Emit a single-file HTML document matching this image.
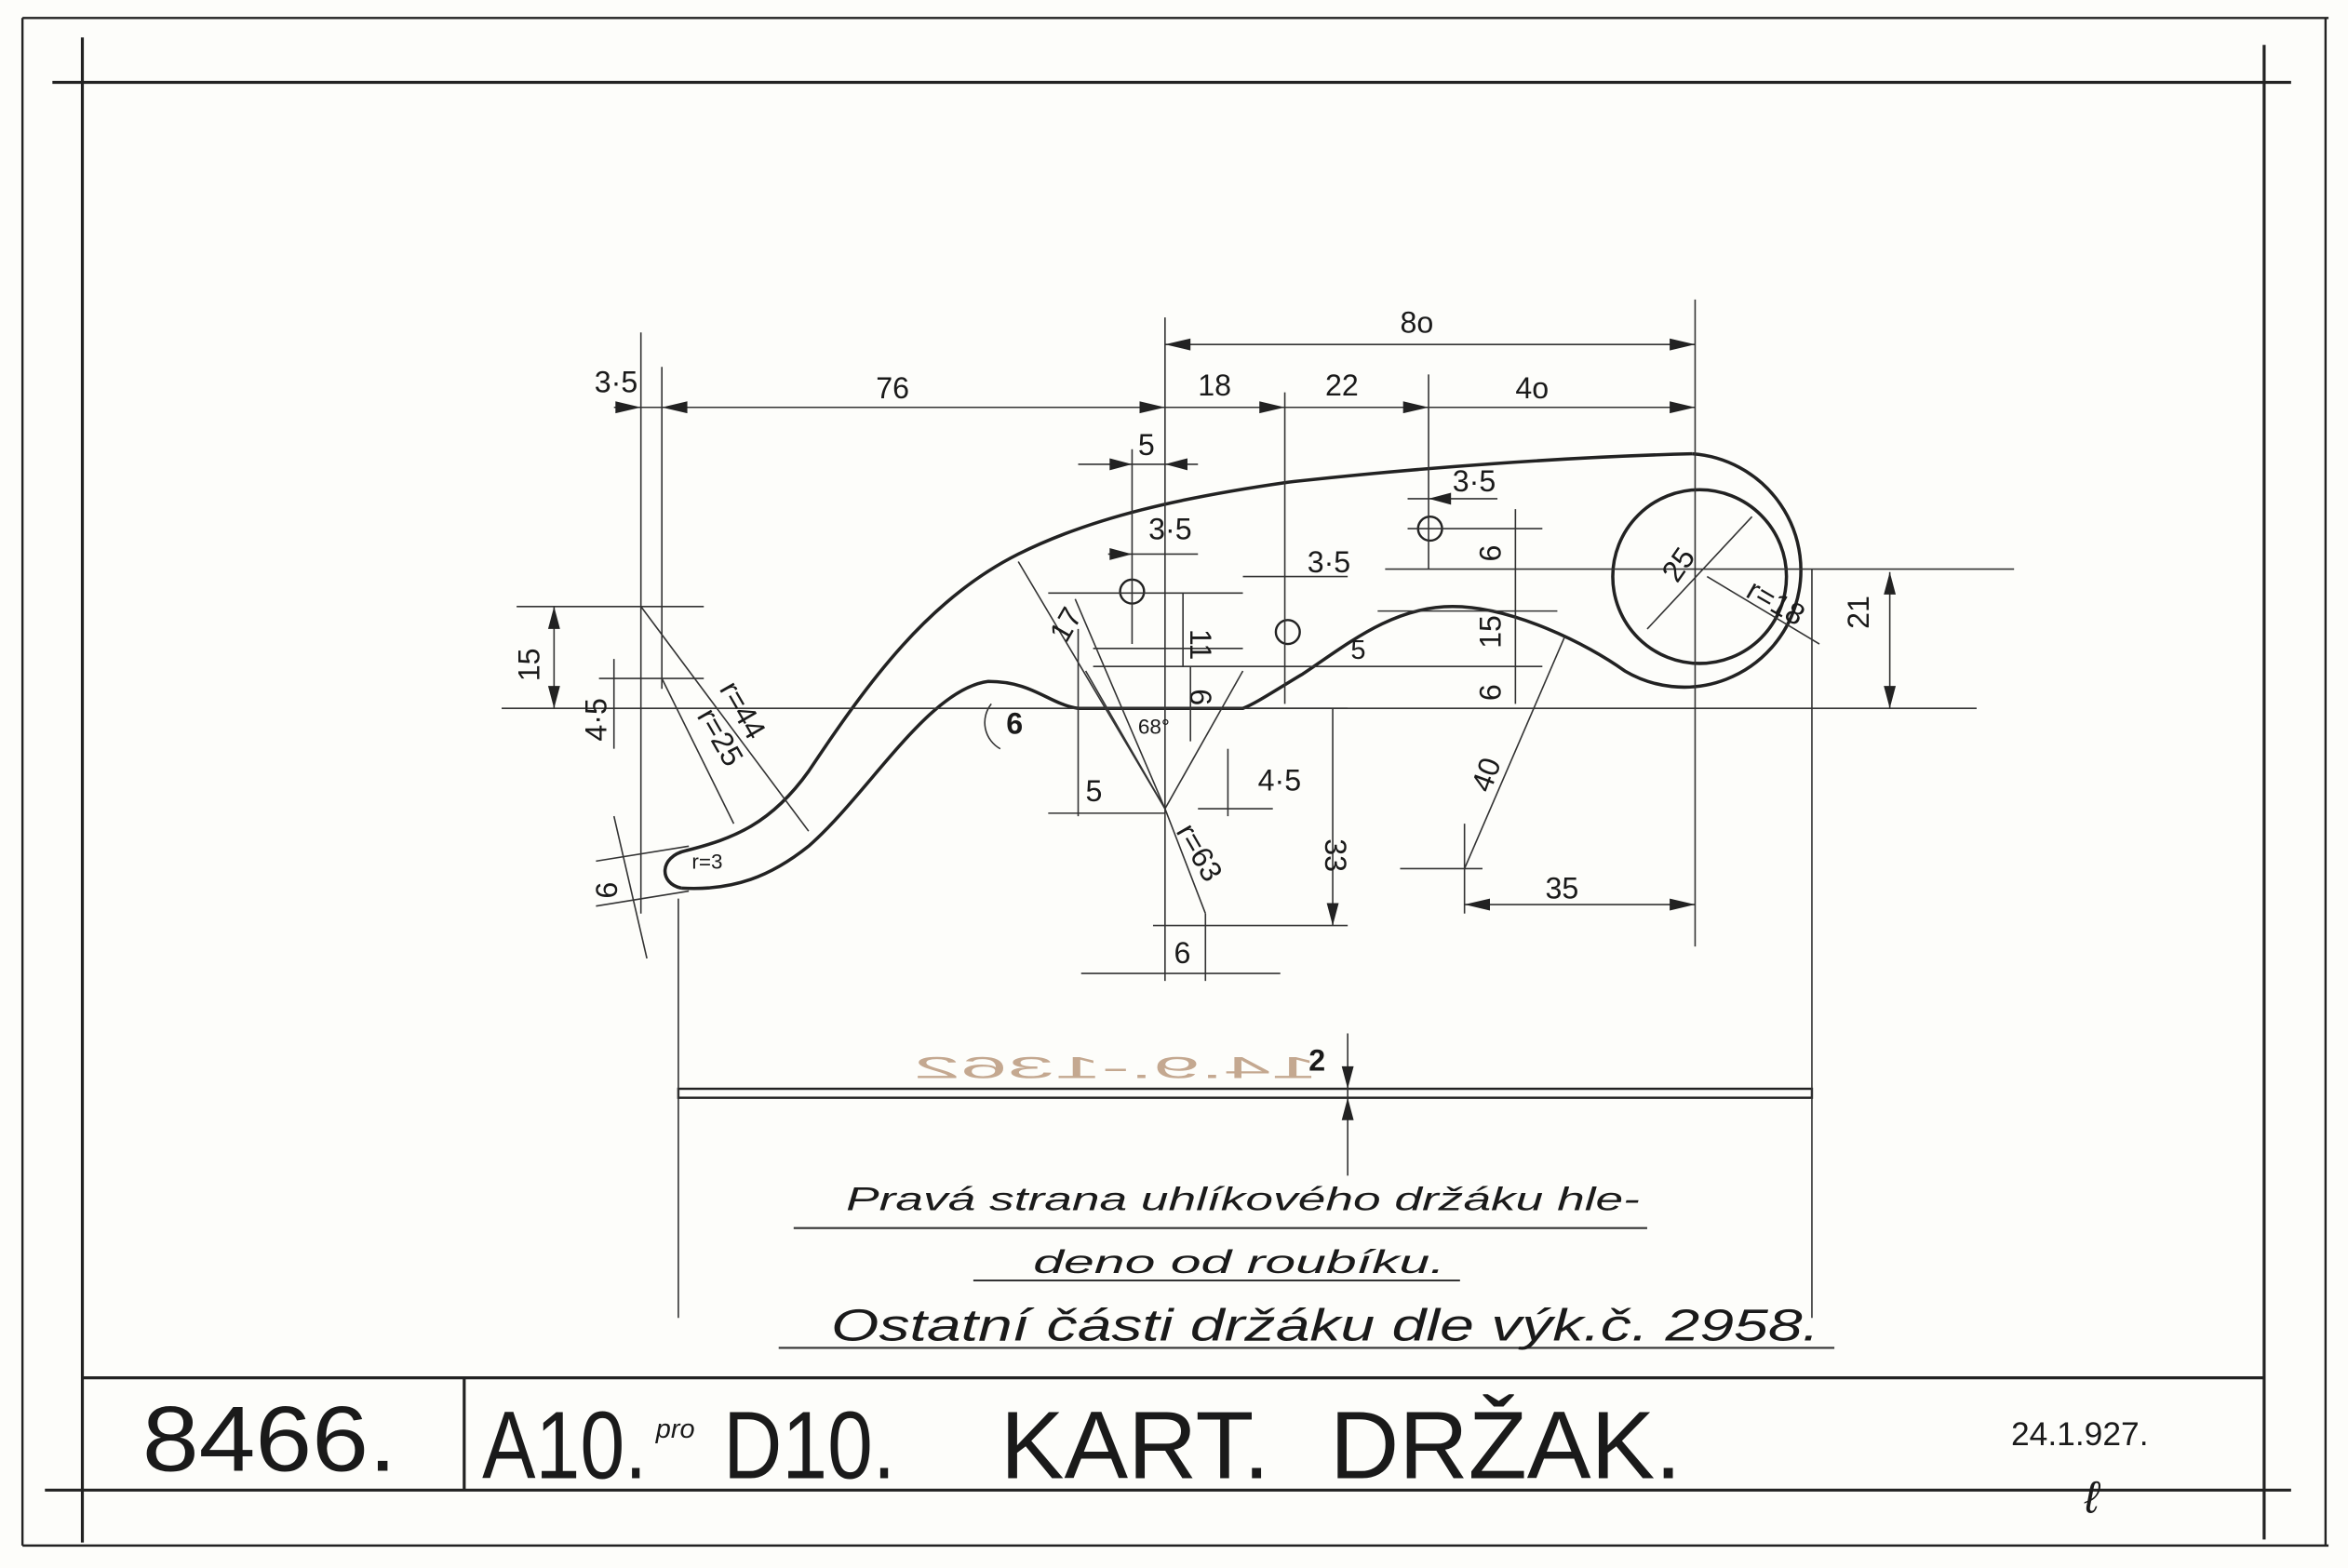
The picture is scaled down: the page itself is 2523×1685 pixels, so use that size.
<!DOCTYPE html>
<html><head><meta charset="utf-8"><style>
html,body{margin:0;padding:0;background:#fdfdfa;}
svg{display:block;}
text{font-family:"Liberation Sans",sans-serif;fill:#1a1a1a;}
.c{font-style:italic;}
</style></head><body>
<svg width="2523" height="1685" viewBox="0 0 1568 1047" preserveAspectRatio="none" xmlns="http://www.w3.org/2000/svg">
<rect width="1568" height="1047" fill="#fdfdfa"/>
<g stroke="#222" fill="none" stroke-width="1.5">
<line x1="15" y1="12" x2="1555" y2="12"/>
<line x1="15" y1="12" x2="15" y2="1032"/>
<line x1="1553" y1="12" x2="1553" y2="1032"/>
<line x1="15" y1="1032" x2="1555" y2="1032"/>
<line x1="35" y1="55" x2="1530" y2="55" stroke-width="2"/>
<line x1="55" y1="25" x2="55" y2="1030" stroke-width="2"/>
<line x1="1512" y1="30" x2="1512" y2="1028" stroke-width="2"/>
<line x1="30" y1="995" x2="1530" y2="995" stroke-width="2"/>
<line x1="55" y1="920" x2="1512" y2="920" stroke-width="2"/>
<line x1="310" y1="920" x2="310" y2="995" stroke-width="2"/>
<path stroke-width="2.2" d="M455,593 C440,590 440,572 458,568 C490,560 515,550 540,515 C580,455 620,400 680,370 C730,345 790,332 860,322 C950,312 1050,305 1130,303"/>
<path stroke-width="2.2" d="M1130,303 A78,78 0 1 1 1085,448 C1060,430 1010,405 970,405 C930,405 900,430 870,450 C850,462 838,470 830,473 L720,473 C700,470 690,455 660,455 C620,460 580,530 540,565 C515,585 490,595 455,593"/>
<circle cx="1135" cy="385" r="58" stroke-width="2.2"/>
<circle cx="756" cy="395" r="8"/><circle cx="860" cy="422" r="8"/><circle cx="955" cy="353" r="8"/>
<rect x="453" y="727" width="757" height="6" stroke-width="1.5"/>
</g>
<g stroke="#333" fill="none" stroke-width="1">
<line x1="778" y1="212" x2="778" y2="655"/>
<line x1="1132" y1="200" x2="1132" y2="632"/>
<line x1="778" y1="230" x2="1132" y2="230"/>
<line x1="410" y1="272" x2="1132" y2="272"/>
<line x1="428" y1="222" x2="428" y2="610"/>
<line x1="442" y1="245" x2="442" y2="460"/>
<line x1="858" y1="262" x2="858" y2="470"/>
<line x1="954" y1="250" x2="954" y2="380"/>
<line x1="720" y1="310" x2="800" y2="310"/>
<line x1="756" y1="300" x2="756" y2="430"/>
<line x1="740" y1="370" x2="800" y2="370"/>
<line x1="700" y1="396" x2="830" y2="396"/>
<line x1="830" y1="385" x2="900" y2="385"/>
<line x1="940" y1="333" x2="1000" y2="333"/>
<line x1="925" y1="380" x2="1345" y2="380"/>
<line x1="940" y1="353" x2="1030" y2="353"/>
<line x1="730" y1="433" x2="830" y2="433"/>
<line x1="730" y1="445" x2="1030" y2="445"/>
<line x1="920" y1="408" x2="1040" y2="408"/>
<line x1="335" y1="473" x2="1320" y2="473"/>
<line x1="345" y1="405" x2="470" y2="405"/>
<line x1="400" y1="453" x2="470" y2="453"/>
<line x1="370" y1="405" x2="370" y2="473"/>
<line x1="410" y1="440" x2="410" y2="500"/>
<line x1="1262" y1="382" x2="1262" y2="473"/>
<line x1="1140" y1="385" x2="1215" y2="430"/>
<line x1="1100" y1="420" x2="1170" y2="345"/>
<line x1="428" y1="405" x2="540" y2="555"/>
<line x1="442" y1="453" x2="490" y2="550"/>
<line x1="778" y1="540" x2="680" y2="375"/>
<line x1="778" y1="540" x2="718" y2="400"/>
<line x1="778" y1="540" x2="725" y2="448"/>
<line x1="778" y1="540" x2="830" y2="448"/>
<line x1="778" y1="540" x2="805" y2="610"/>
<line x1="720" y1="420" x2="720" y2="545"/>
<line x1="700" y1="543" x2="778" y2="543"/>
<line x1="820" y1="500" x2="820" y2="545"/>
<line x1="800" y1="540" x2="850" y2="540"/>
<line x1="830" y1="473" x2="900" y2="473"/>
<line x1="890" y1="473" x2="890" y2="618"/>
<line x1="770" y1="618" x2="900" y2="618"/>
<line x1="805" y1="610" x2="805" y2="655"/>
<line x1="722" y1="650" x2="855" y2="650"/>
<line x1="978" y1="580" x2="1045" y2="425"/>
<line x1="935" y1="580" x2="990" y2="580"/>
<line x1="978" y1="550" x2="978" y2="610"/>
<line x1="978" y1="604" x2="1132" y2="604"/>
<line x1="1012" y1="340" x2="1012" y2="470"/>
<line x1="790" y1="396" x2="790" y2="445"/>
<line x1="795" y1="445" x2="795" y2="495"/>
<line x1="398" y1="575" x2="460" y2="565"/>
<line x1="398" y1="605" x2="460" y2="595"/>
<line x1="410" y1="545" x2="432" y2="640"/>
<line x1="453" y1="600" x2="453" y2="880"/>
<line x1="1210" y1="380" x2="1210" y2="880"/>
<line x1="900" y1="690" x2="900" y2="785"/>
<line x1="530" y1="820" x2="1100" y2="820" stroke-width="1.3"/>
<line x1="650" y1="855" x2="975" y2="855" stroke-width="1.3"/>
<line x1="520" y1="900" x2="1225" y2="900" stroke-width="1.3"/>
<path d="M662,470 A20,20 0 0 0 668,500"/>
</g>
<g fill="#222">
<polygon points="1132,230 1115,226 1115,234"/><polygon points="778,230 795,226 795,234"/>
<polygon points="1132,272 1115,268 1115,276"/><polygon points="778,272 761,268 761,276"/>
<polygon points="442,272 459,268 459,276"/><polygon points="428,272 411,268 411,276"/>
<polygon points="858,272 841,268 841,276"/><polygon points="954,272 937,268 937,276"/>
<polygon points="370,405 366,420 374,420"/><polygon points="370,473 366,458 374,458"/>
<polygon points="1262,382 1258,397 1266,397"/><polygon points="1262,473 1258,458 1266,458"/>
<polygon points="890,618 886,603 894,603"/><polygon points="1132,604 1115,600 1115,608"/>
<polygon points="978,604 995,600 995,608"/><polygon points="900,727 896,712 904,712"/>
<polygon points="900,733 896,748 904,748"/>
<polygon points="756,370 741,366 741,374"/><polygon points="756,310 741,306 741,314"/>
<polygon points="778,310 793,306 793,314"/><polygon points="954,333 969,329 969,337"/>
</g>
<text x="605" y="720" textLength="270" lengthAdjust="spacingAndGlyphs" style="fill:#c4a890;font-size:20px" transform="translate(1485,0) scale(-1,1)">14.9.-1362</text>
<g font-size="20">
<text x="397" y="262">3·5</text><text x="585" y="266">76</text>
<text x="935" y="222">8o</text><text x="800" y="264">18</text><text x="885" y="264">22</text><text x="1012" y="266">4o</text>
<text x="760" y="304">5</text><text x="767" y="360">3·5</text><text x="873" y="382">3·5</text><text x="970" y="328">3·5</text>
<text x="1032" y="600">35</text><text x="784" y="643">6</text><text x="725" y="535">5</text><text x="840" y="528">4·5</text>
<text x="902" y="440" font-size="18">5</text>
<text transform="translate(360,455) rotate(-90)">15</text>
<text transform="translate(405,495) rotate(-90)">4·5</text>
<text transform="translate(412,600) rotate(-90)">6</text>
<text transform="translate(1002,375) rotate(-90)">6</text>
<text transform="translate(1002,433) rotate(-90)">15</text>
<text transform="translate(1002,468) rotate(-90)">6</text>
<text transform="translate(1248,420) rotate(-90)">21</text>
<text transform="translate(885,560) rotate(90)">33</text>
<text transform="translate(795,420) rotate(90)">11</text>
<text transform="translate(795,460) rotate(90)">6</text>
<text transform="translate(712,430) rotate(-60)">17</text>
<text transform="translate(995,530) rotate(-70)">40</text>
<text transform="translate(480,460) rotate(60)">r=44</text>
<text transform="translate(465,478) rotate(60)">r=25</text>
<text transform="translate(785,555) rotate(60)">r=63</text>
<text transform="translate(1165,398) rotate(30)">r=18</text>
<text transform="translate(1120,390) rotate(-55)">25</text>
<text x="462" y="580" font-size="14">r=3</text>
<text x="760" y="490" font-size="14">68°</text>
<text x="672" y="490" font-weight="bold">6</text>
<text x="874" y="715" font-weight="bold">2</text>
</g>
<g class="c">
<text x="565" y="808" font-size="22" textLength="530" lengthAdjust="spacingAndGlyphs">Pravá strana uhlíkového držáku hle-</text>
<text x="690" y="850" font-size="22" textLength="275" lengthAdjust="spacingAndGlyphs">deno od roubíku.</text>
<text x="555" y="895" font-size="30" textLength="660" lengthAdjust="spacingAndGlyphs">Ostatní části držáku dle výk.č. 2958.</text>
</g>
<text x="95" y="982" font-size="62" textLength="170" lengthAdjust="spacingAndGlyphs">8466.</text>
<text x="322" y="987" font-size="64" textLength="110" lengthAdjust="spacingAndGlyphs">A10.</text>
<text x="438" y="960" font-size="18" class="c">pro</text>
<text x="483" y="987" font-size="64" textLength="115" lengthAdjust="spacingAndGlyphs">D10.</text>
<text x="668" y="987" font-size="64" textLength="180" lengthAdjust="spacingAndGlyphs">KART.</text>
<text x="888" y="987" font-size="64" textLength="235" lengthAdjust="spacingAndGlyphs">DRŽAK.</text>
<text x="1343" y="965" font-size="22">24.1.927.</text>
<text x="1392" y="1010" font-size="30" class="c">ℓ</text>
</svg>
</body></html>
